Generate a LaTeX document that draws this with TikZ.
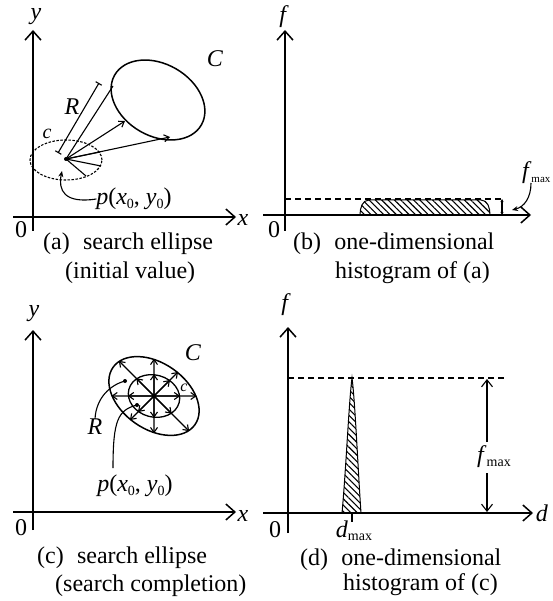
\documentclass[tikz,border=0pt]{standalone}
\usepackage{fontspec}
\setmainfont{Liberation Serif}
\usetikzlibrary{arrows.meta,patterns.meta,shapes.geometric}
\newcommand\mysub[1]{\raisebox{-0.3ex}{\fontsize{14}{14}\selectfont #1}}
\newcommand\mysubsmall[1]{\raisebox{-0.3ex}{\fontsize{11}{11}\selectfont #1}}
\begin{document}
\begin{tikzpicture}[x=1pt,y=1pt,
 font=\fontsize{24}{28}\selectfont,
 axisline/.style={line width=1.8pt,-{Straight Barb[length=9pt,width=16pt,line width=1.5pt]}},
 thinline/.style={line width=1.1pt},
 rayarrow/.style={line width=1.1pt,-{Straight Barb[length=5pt,width=7pt]}},
 lbl/.style={inner sep=0pt,outer sep=0pt},
 ell/.style={draw,ellipse,inner sep=0pt,line width=1.5pt},
 dashline/.style={line width=1.1pt,dash pattern=on 6pt off 4pt},
 hatch/.style={line width=1pt,pattern={Lines[angle=-45,distance=4.5pt,line width=1.1pt]}},
 captxt/.style={inner sep=0pt,anchor=base west},
 fmarrow/.style={line width=1.1pt,-{Straight Barb[length=7pt,width=11pt]}},
 curvearrow/.style={line width=1.1pt,-{Stealth[length=6pt,width=5pt]}}
]
\useasboundingbox (0,0) rectangle (552,-601);

% ---------------- Panel (a)
\coordinate (ax0) at (13,-217); \coordinate (ax1) at (236,-217);
\coordinate (ay0) at (33,-231); \coordinate (ay1) at (33,-30);
\draw[axisline] (ax0) -- (ax1);
\draw[axisline] (ay0) -- (ay1);
\node[lbl] (xa) at (243,-220) {\textit{x}};
\node[lbl] (ya) at (36,-17) {\textit{y}};
\node[lbl] (oa) at (21,-230) {0};
\node[ell,minimum width=100pt,minimum height=72pt,rotate=-30] (Ca) at (158,-100) {};
\node[lbl] (CaL) at (215,-59) {\textit{C}};
\node[draw,ellipse,inner sep=0pt,line width=1.1pt,dash pattern=on 2.5pt off 1.5pt,minimum width=72pt,minimum height=40pt] (ca) at (66,-160) {};
\node[lbl,font=\fontsize{20}{20}\selectfont] (caL) at (47,-134) {\textit{c}};
\coordinate (pa) at (66,-159);
\coordinate (ta1) at (125,-121);
\coordinate (ta2) at (170,-137);
\coordinate (ta3) at (113,-86);
\draw[rayarrow] (pa) -- (ta1);
\draw[rayarrow] (pa) -- (ta2);
\draw[thinline] (pa) -- (ta3);
\coordinate (Ra0) at (58,-153); \coordinate (Ra1) at (99,-83);
\draw[thinline,{Bar[width=7pt]}-{Bar[width=7pt]}] (Ra0) -- (Ra1);
\node[lbl] (RaL) at (72,-107) {\textit{R}};
\coordinate (sa1) at (100,-152); \coordinate (sa2) at (101,-166); \coordinate (sa3) at (86,-176);
\draw[thinline] (pa) -- (sa1);
\draw[thinline] (pa) -- (sa2);
\draw[thinline] (pa) -- (sa3);
\fill (pa) circle (2pt);
\node[lbl] (pla) at (134,-199) {\textit{p}(\textit{x}\mysub{0}, \textit{y}\mysub{0})};
\coordinate (pa2) at (62,-171);
\draw[curvearrow] (pla.west) .. controls (64,-204) and (58,-190) .. (pa2);
\node[captxt] (capa1) at (43,-249) {(a)\hspace{0.55em}search ellipse};
\node[captxt] (capa2) at (65,-278) {(initial value)};

% ---------------- Panel (b)
\coordinate (bx0) at (263,-215); \coordinate (bx1) at (531,-215);
\coordinate (by0) at (285,-231); \coordinate (by1) at (285,-30);
\draw[axisline] (bx0) -- (bx1);
\draw[axisline] (by0) -- (by1);
\node[lbl] (fb) at (284,-17) {\textit{f}};
\node[lbl] (ob) at (274,-230) {0};
\coordinate (bd0) at (285,-199); \coordinate (bd1) at (503,-199);
\draw[hatch] (360,-215) to[out=90,in=180] (369,-200) -- (481,-200) to[out=0,in=90] (490,-215) -- cycle;
\draw[dashline] (bd0) -- (bd1);
\coordinate (bm0) at (502,-199); \coordinate (bm1) at (502,-215);
\draw[thinline,{Stealth[length=3pt,width=3pt]}-{Stealth[length=3pt,width=3pt]}] (bm0) -- (bm1);
\node[lbl,anchor=west] (fmb) at (522,-173) {\textit{f}\mysubsmall{max}};
\coordinate (fmbs) at (531,-183);
\coordinate (fmbt) at (512,-210);
\draw[curvearrow] (fmbs) .. controls (531,-198) and (524,-207) .. (fmbt);
\node[captxt] (capb1) at (293,-249) {(b)\hspace{0.55em}one-dimensional};
\node[captxt] (capb2) at (335,-278) {histogram of (a)};

% ---------------- Panel (c)
\coordinate (cx0) at (13,-512); \coordinate (cx1) at (236,-512);
\coordinate (cy0) at (33,-530); \coordinate (cy1) at (33,-330);
\draw[axisline] (cx0) -- (cx1);
\draw[axisline] (cy0) -- (cy1);
\node[lbl] (xc) at (243,-516) {\textit{x}};
\node[lbl] (yc) at (34,-314) {\textit{y}};
\node[lbl] (oc) at (21,-528) {0};
\node[ell,minimum width=100pt,minimum height=66pt,rotate=-35] (Cc) at (154,-396) {};
\node[draw,ellipse,inner sep=0pt,line width=1.3pt,minimum width=52pt,minimum height=42pt,rotate=-15] (cc) at (154,-396) {};
\node[lbl] (CcL) at (193,-353) {\textit{C}};
\node[lbl,font=\fontsize{16}{16}\selectfont] (ccL) at (184,-388) {\textit{c}};
\coordinate (pc) at (154,-396);
\foreach \a [evaluate=\a as \b using int(\a+35), evaluate=\a as \c using int(\a+15)] in {0,45,...,315} {
  \draw[rayarrow] (pc) -- (Cc.\b);
  \draw[rayarrow] (pc) -- (cc.\c);
}
\fill (pc) circle (2pt);
\node[lbl] (RcL) at (95,-427) {\textit{R}};
\coordinate (rc) at (125,-381);
\draw[thinline] (RcL.north) .. controls (96,-398) and (110,-385) .. (rc);
\fill (rc) circle (2pt);
\node[lbl] (plc) at (135,-486) {\textit{p}(\textit{x}\mysub{0}, \textit{y}\mysub{0})};
\coordinate (pcs) at (113,-468);
\coordinate (pdot) at (137,-405);
\draw[thinline] (pcs) .. controls (113,-420) and (118,-410) .. (pdot);
\fill (pdot) circle (2pt);
\node[captxt] (capc1) at (37,-563) {(c)\hspace{0.55em}search ellipse};
\node[captxt] (capc2) at (55,-591) {(search completion)};

% ---------------- Panel (d)
\coordinate (dx0) at (263,-513); \coordinate (dx1) at (533,-513);
\coordinate (dy0) at (288,-533); \coordinate (dy1) at (288,-327);
\draw[axisline] (dx0) -- (dx1);
\draw[axisline] (dy0) -- (dy1);
\node[lbl] (dd) at (542,-513) {\textit{d}};
\node[lbl] (fd) at (286,-305) {\textit{f}};
\node[lbl] (od) at (275,-530) {0};
\coordinate (dd0) at (288,-378); \coordinate (dd1) at (507,-378);
\draw[dashline] (dd0) -- (dd1);
\draw[hatch] (342,-513) .. controls (346,-470) and (349,-400) .. (352,-378) .. controls (355,-400) and (358,-470) .. (361,-513) -- cycle;
\coordinate (dt0) at (352,-513); \coordinate (dt1) at (352,-522);
\draw[thinline] (dt0) -- (dt1);
\node[lbl] (dmx) at (354,-531) {\textit{d}\mysub{max}};
\node[lbl] (fmd) at (494,-457) {\textit{f}\mysub{max}};
\coordinate (fa0) at (487,-442); \coordinate (fa1) at (487,-379);
\coordinate (fa2) at (487,-473); \coordinate (fa3) at (487,-512);
\draw[fmarrow] (fa0) -- (fa1);
\draw[fmarrow] (fa2) -- (fa3);
\node[captxt] (capd1) at (300,-565) {(d)\hspace{0.55em}one-dimensional};
\node[captxt] (capd2) at (343,-590) {histogram of (c)};
\end{tikzpicture}
\end{document}
